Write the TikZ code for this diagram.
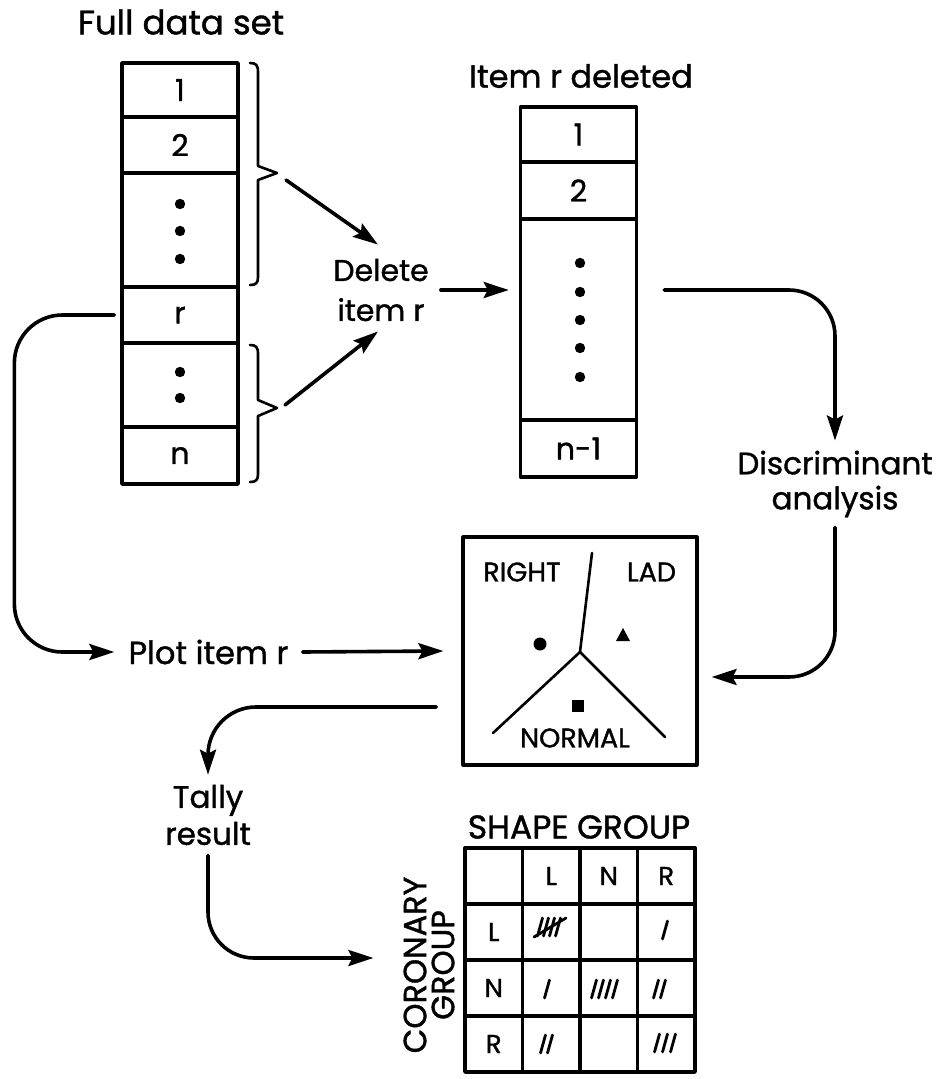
\documentclass[tikz,border=0pt]{standalone}
\usepackage{fontspec}
\setmainfont{Poppins}[FakeBold=1.2]
\usetikzlibrary{arrows.meta,calc}

\newcommand\tallymark[2]{\draw[tallyline] ({#1-2.5},{#2+9}) -- ({#1+2.5},{#2-9});}

\begin{document}
\begin{tikzpicture}[x=1pt,y=-1pt,line cap=round,line join=round,
  cell/.style={draw,line width=3.5pt,minimum width=116pt,inner sep=0pt,
    font=\fontsize{30}{34}\selectfont},
  tcell/.style={draw,line width=3.4pt,minimum width=57.5pt,minimum height=56pt,
    inner sep=0pt,font=\fontsize{26}{28}\selectfont},
  title/.style={inner sep=0pt},
  lbl/.style={align=center},
  arr/.style={line width=3.6pt,-{Stealth[length=25pt,width=16pt,inset=4pt]}},
  brace/.style={line width=2.6pt},
  tallyline/.style={line width=2.8pt},
  region/.style={line width=2.6pt}]

\useasboundingbox (0,0) rectangle (942,1079);

% ---------- full data set ----------
\node[title,font=\fontsize{34}{40}\selectfont] (tfull) at (181,22) {Full data set};
\node[cell,minimum height=54pt]  (a1) at (180,90)    {1};
\node[cell,minimum height=56pt]  (a2) at (180,145)   {2};
\node[cell,minimum height=114pt] (a3) at (180,230)   {};
\node[cell,minimum height=56pt]  (ar) at (180,315)   {r};
\node[cell,minimum height=84pt]  (a5) at (180,385)   {};
\node[cell,minimum height=57pt]  (an) at (180,455.5) {n};
\foreach \y in {204,231,259} \fill (180,\y) circle (5.2pt);
\foreach \y in {372,398} \fill (180,\y) circle (5.2pt);

% braces grouping the kept items
\draw[brace] (250,63) .. controls (256,63) and (258,65) .. (258,72)
  -- (258,166) -- (277,173) -- (258,180) -- (258,277)
  .. controls (258,283) and (256,285) .. (250,285);
\draw[brace] (250,345) .. controls (256,345) and (258,347) .. (258,354)
  -- (258,400) -- (277,408) -- (258,416) -- (258,474)
  .. controls (258,480) and (256,482) .. (250,482);
\coordinate (bt1) at (286,180);
\coordinate (bt2) at (285,405);

% ---------- deletion step ----------
\node[lbl,inner sep=12pt,font=\fontsize{30}{40}\selectfont] (del) at (381,290) {Delete\\item r};
\draw[arr] (bt1) -- ($(del.north)+(-3,-2)$);
\draw[arr] (bt2) -- ($(del.south)+(-3,-2)$);

% ---------- reduced data set ----------
\node[title,font=\fontsize{32}{36}\selectfont] (tdel) at (581,76) {Item r deleted};
\node[cell,minimum height=55pt]  (b1) at (578.5,134.5) {1};
\node[cell,minimum height=57pt]  (b2) at (578.5,190.5) {2};
\node[cell,minimum height=201pt] (b3) at (578.5,319.5) {};
\node[cell,minimum height=57pt]  (bn) at (578.5,448.5) {n-1};
\foreach \y in {263,292,320,348,377} \fill (580,\y) circle (5.2pt);

\draw[arr] (del.east) -- ($(b3.west|-del.east)+(-10,0)$);

% ---------- discriminant analysis ----------
\node[lbl,inner sep=10pt,font=\fontsize{31}{35}\selectfont] (disc) at (835,484) {Discriminant\\analysis};
\draw[arr,rounded corners=46pt] ($(b3.east|-del.east)+(26,0)$) -| (disc.north);

% ---------- classification plot ----------
\node[draw,line width=3.2pt,minimum width=234pt,minimum height=228pt] (box) at (580,651) {};
\node[font=\fontsize{27}{30}\selectfont,inner sep=0pt] (rright) at (522,572) {RIGHT};
\node[font=\fontsize{27}{30}\selectfont,inner sep=0pt] (rlad) at (651.5,572) {LAD};
\node[font=\fontsize{27}{30}\selectfont,inner sep=0pt] (rnorm) at (575,738) {NORMAL};
\coordinate (vc) at (580,652);
\draw[region] (592,553) -- (vc);
\draw[region] (vc) -- (493,733);
\draw[region] (vc) -- (665,737);
\fill (540,644) circle (6.5pt);
\fill (616,641) -- (630,641) -- (623,628) -- cycle;
\fill (572,700) rectangle (584,712);

\draw[arr,rounded corners=46pt] (disc.south) |- ($(box.east)+(13,26)$);

% ---------- plotting the deleted item ----------
\node[lbl,inner sep=14pt,font=\fontsize{32}{38}\selectfont] (plot) at (208.5,652) {Plot item r};
\draw[arr,rounded corners=48pt] ($(ar.west)+(-6,0)$) -| ($(plot.west)+(-100,0)$) -- (plot.west);
\draw[arr] (plot.east) -- ($(box.west)+(-18,0)$);

% ---------- tally ----------
\node[lbl,inner sep=10pt,font=\fontsize{31}{37}\selectfont] (tally) at (208,815) {Tally\\result};
\draw[arr,rounded corners=48pt] ($(box.west)+(-25,56)$) -| (tally.north);

\node[font=\fontsize{33}{36}\selectfont,inner sep=0pt] (shape) at (579,827) {SHAPE GROUP};
\node[rotate=90,align=center,inner sep=0pt,font=\fontsize{32}{28}\selectfont] (cor) at (429,965) {CORONARY\\GROUP};
\draw[arr,rounded corners=46pt] (tally.south) |- ($(cor.north)+(-30,-7)$);

% table cells
\node[tcell] (t00) at (493.75,876) {};
\node[tcell] (t01) at (551.25,876) {L};
\node[tcell] (t02) at (608.75,876) {N};
\node[tcell] (t03) at (666.25,876) {R};
\node[tcell] (t10) at (493.75,932) {L};
\node[tcell] (t11) at (551.25,932) {};
\node[tcell] (t12) at (608.75,932) {};
\node[tcell] (t13) at (666.25,932) {};
\node[tcell] (t20) at (493.75,988) {N};
\node[tcell] (t21) at (551.25,988) {};
\node[tcell] (t22) at (608.75,988) {};
\node[tcell] (t23) at (666.25,988) {};
\node[tcell] (t30) at (493.75,1044) {R};
\node[tcell] (t31) at (551.25,1044) {};
\node[tcell] (t32) at (608.75,1044) {};
\node[tcell] (t33) at (666.25,1044) {};

% tally marks
\foreach \x in {540,546,552,558} {\tallymark{\x}{927}}
\draw[tallyline] (534,937) -- (566,918);
\tallymark{665}{930}
\tallymark{547}{989}
\foreach \x in {594,601,608,615} {\tallymark{\x}{989}}
\foreach \x in {656,663} {\tallymark{\x}{989}}
\foreach \x in {543,550} {\tallymark{\x}{1044}}
\foreach \x in {657,665,673} {\tallymark{\x}{1043}}

\end{tikzpicture}
\end{document}
